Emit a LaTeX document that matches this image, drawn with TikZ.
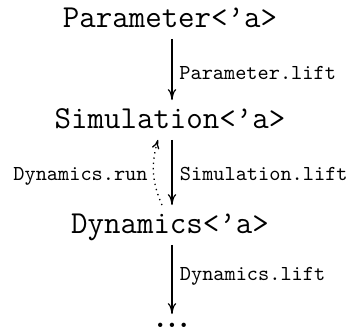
\documentclass[tikz,border=0pt]{standalone}
\usetikzlibrary{arrows.meta}
\begin{document}
\begin{tikzpicture}[x=0.5pt,y=-0.5pt,
  obj/.style={font=\ttfamily\fontsize{16}{18}\selectfont, inner sep=0pt, text height=14pt, text depth=5.5pt, anchor=base},
  lbl/.style={font=\ttfamily\fontsize{10.65}{12}\selectfont, inner sep=0pt},
  cdarrow/.style={line width=0.6pt, -{To[length=5.5pt,width=4.2pt]}},
  dotarrow/.style={line width=0.65pt, dotted, -{To[length=4.5pt,width=3.8pt]}}]
\useasboundingbox (0,0) rectangle (349,330);
\node[obj] (P) at (170,27.5) {Parameter<’a>};
\node[obj] (S) at (170,128.5) {Simulation<’a>};
\node[obj] (D) at (170,233.5) {Dynamics<’a>};
\node[inner sep=0pt, anchor=base, text height=6.5pt, text depth=0pt, font=\bfseries\fontsize{15}{16}\selectfont] (E) at (172,327.5) {.\kern1.2pt.\kern1.2pt.};
\draw[cdarrow] (P.south -| 172,0) -- (S.north -| 172,0);
\draw[cdarrow] (S.south -| 172,0) -- (D.north -| 172,0);
\draw[cdarrow] (D.south -| 172,0) -- (E.north);
\draw[dotarrow] (D.north -| 162,0) to[bend left=20] (S.south -| 158,0);
\node[lbl, anchor=base west] (l1) at (179,80) {Parameter.lift};
\node[lbl, anchor=base west] (l2) at (179.5,181) {Simulation.lift};
\node[lbl, anchor=base east] (l3) at (148,181) {Dynamics.run};
\node[lbl, anchor=base west] (l4) at (179.5,281) {Dynamics.lift};
\end{tikzpicture}
\end{document}
